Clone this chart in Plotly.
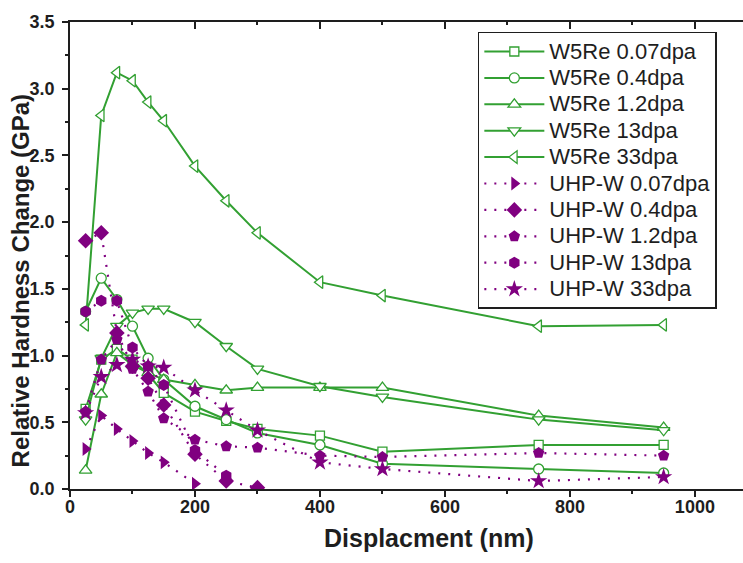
import plotly.graph_objects as go

# Indentation depth (nm)
depth_full = [25, 50, 75, 100, 125, 150, 200, 250, 300, 400, 500, 750, 950]
depth_007 = [25, 50, 75, 100, 125, 150, 200]
depth_04 = [25, 50, 75, 100, 125, 150, 200, 250, 300]
depth_13 = [25, 50, 75, 100, 125, 150, 200, 250]

# W5Re: relative hardness change (GPa)
w5re_007 = [0.60, 0.97, 1.05, 0.97, 0.86, 0.72, 0.58, 0.51, 0.45, 0.40, 0.28, 0.33, 0.33]
w5re_04 = [1.33, 1.58, 1.42, 1.22, 0.98, 0.82, 0.62, 0.52, 0.42, 0.33, 0.19, 0.15, 0.12]
w5re_12 = [0.14, 0.71, 1.02, 0.93, 0.87, 0.82, 0.78, 0.74, 0.76, 0.76, 0.76, 0.55, 0.46]
w5re_13 = [0.52, 0.98, 1.22, 1.32, 1.35, 1.35, 1.25, 1.07, 0.90, 0.77, 0.69, 0.52, 0.44]
w5re_33 = [1.23, 2.80, 3.12, 3.06, 2.90, 2.76, 2.42, 2.16, 1.92, 1.55, 1.45, 1.22, 1.23]

# UHP-W: relative hardness change (GPa)
uhp_007 = [0.30, 0.55, 0.45, 0.36, 0.27, 0.20, 0.04]
uhp_04 = [1.86, 1.92, 1.17, 0.92, 0.83, 0.63, 0.26, 0.06, 0.01]
uhp_12 = [0.58, 0.97, 1.12, 0.90, 0.73, 0.53, 0.37, 0.32, 0.31, 0.25, 0.24, 0.27, 0.25]
uhp_13 = [1.33, 1.41, 1.41, 1.06, 0.92, 0.78, 0.29, 0.10]
uhp_33 = [0.57, 0.84, 0.93, 0.97, 0.92, 0.91, 0.74, 0.59, 0.44, 0.20, 0.15, 0.06, 0.09]

GREEN = "#32a032"
PURPLE = "#800080"
INK = "#1e1e1e"
FONT = "Liberation Sans"

w5re_series = [
    ("W5Re 0.07dpa", depth_full, w5re_007, "square", 9),
    ("W5Re 0.4dpa", depth_full, w5re_04, "circle", 10),
    ("W5Re 1.2dpa", depth_full, w5re_12, "triangle-up", 11),
    ("W5Re 13dpa", depth_full, w5re_13, "triangle-down", 11),
    ("W5Re 33dpa", depth_full, w5re_33, "triangle-left", 11),
]
uhp_series = [
    ("UHP-W 0.07dpa", depth_007, uhp_007, "triangle-right", 12),
    ("UHP-W 0.4dpa", depth_04, uhp_04, "diamond", 12),
    ("UHP-W 1.2dpa", depth_full, uhp_12, "pentagon", 12),
    ("UHP-W 13dpa", depth_13, uhp_13, "hexagon", 12),
    ("UHP-W 33dpa", depth_full, uhp_33, "star", 13),
]


def legend_label(text):
    # larger glyphs than the legend's row pitch, which follows legend.font.size
    return f'<span style="font-size:22px">{text}</span>'


fig = go.Figure()
for name, xs, ys, sym, sz in w5re_series:
    fig.add_trace(go.Scatter(
        x=xs, y=ys, name=legend_label(name), mode="lines+markers",
        line=dict(color=GREEN, width=2),
        marker=dict(symbol=sym, size=sz, color="white",
                    line=dict(color=GREEN, width=1.3)),
    ))
for name, xs, ys, sym, sz in uhp_series:
    fig.add_trace(go.Scatter(
        x=xs, y=ys, name=legend_label(name), mode="lines+markers",
        line=dict(color=PURPLE, width=2.2, dash="2px,8px"),
        marker=dict(symbol=sym, size=sz, color=PURPLE, line=dict(width=0)),
    ))

tick_font = dict(family=FONT, size=18, color=INK, weight="bold")
title_font = dict(family=FONT, size=25, color=INK, weight="bold")

X_MAX = 1077
axis_common = dict(showgrid=False, zeroline=False,
                   showline=True, linecolor=INK, linewidth=1.5)

fig.update_layout(
    width=743, height=563,
    margin=dict(l=70, r=0, t=22, b=74),
    paper_bgcolor="white", plot_bgcolor="white",
    showlegend=True,
    legend=dict(
        x=0.606, y=0.979, xanchor="left", yanchor="top",
        bgcolor="white", bordercolor=INK, borderwidth=1.5,
        font=dict(family=FONT, size=18, color=INK),
        itemwidth=60, tracegroupgap=0,
    ),
    xaxis=dict(
        range=[0, X_MAX], dtick=200, tick0=0, **axis_common,
        ticks="outside", ticklen=6, tickwidth=1.5, tickcolor=INK,
        minor=dict(dtick=100, ticks="outside", ticklen=3, tickwidth=1.5, tickcolor=INK),
        tickfont=tick_font, ticklabelstandoff=-5,
    ),
    xaxis2=dict(
        overlaying="x", matches="x", side="top",
        range=[0, X_MAX], dtick=200, tick0=0, **axis_common,
        showticklabels=False,
        ticks="inside", ticklen=7, tickwidth=1.5, tickcolor=INK,
        minor=dict(dtick=100, ticks="inside", ticklen=3, tickwidth=1.5, tickcolor=INK),
    ),
    yaxis=dict(
        range=[0, 3.5], dtick=0.5, tick0=0, tickformat=".1f", **axis_common,
        ticks="outside", ticklen=6, tickwidth=1.5, tickcolor=INK,
        minor=dict(dtick=0.25, ticks="outside", ticklen=3, tickwidth=1.5, tickcolor=INK),
        tickfont=tick_font, ticklabelstandoff=4,
    ),
    annotations=[
        dict(text="Displacment (nm)", font=title_font, showarrow=False,
             xref="paper", yref="paper", x=0.533, y=-0.105,
             xanchor="center", yanchor="middle"),
        dict(text="Relative Hardness Change (GPa)", font=dict(title_font, size=24),
             showarrow=False, textangle=-90,
             xref="paper", yref="paper", x=-0.074, y=0.445,
             xanchor="center", yanchor="middle"),
    ],
)

# Invisible helper trace so the top axis is drawn
fig.add_trace(go.Scatter(x=[0], y=[0], xaxis="x2", mode="markers",
                         marker=dict(opacity=0), showlegend=False, hoverinfo="skip"))

fig.write_html("out.html")
